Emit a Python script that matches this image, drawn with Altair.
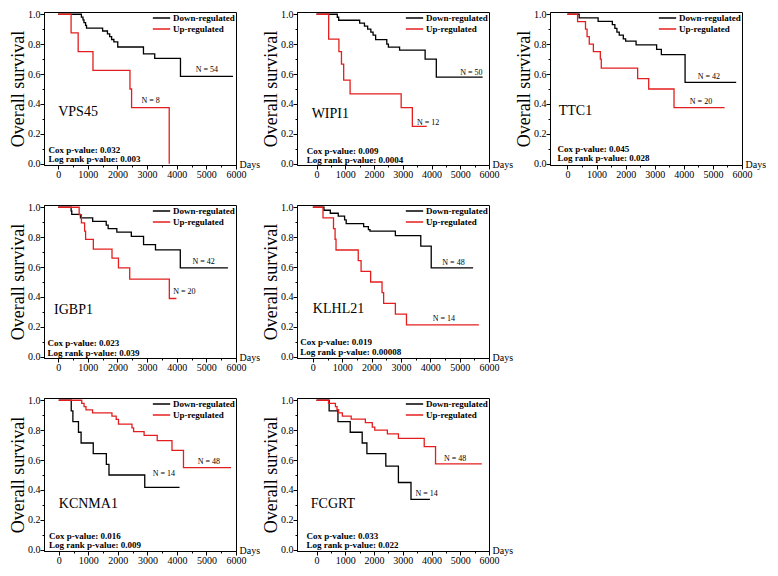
import altair as alt
import pandas as pd

FONT = "Liberation Serif"
W, H = 192, 153

GROUPS = ["Down-regulated", "Up-regulated"]
COLORS = ["#000000", "#e41e1e"]

genes = ["VPS45", "WIPI1", "TTC1", "IGBP1", "KLHL21", "KCNMA1", "FCGRT"]
cox_p = ["0.032", "0.009", "0.045", "0.023", "0.019", "0.016", "0.033"]
logrank_p = ["0.003", "0.0004", "0.028", "0.039", "0.00008", "0.009", "0.022"]
n_down = [54, 50, 42, 42, 48, 14, 14]
n_up = [8, 12, 20, 20, 14, 48, 48]
x_min = [-480, -680, -600, -480, -540, -500, -680]

# ---- VPS45 ----
vps45_down_t = [0, 782, 836, 869, 923, 955, 1498, 1661, 1737, 1802, 1878, 2009, 2877, 3257, 4126, 5900]
vps45_down_s = [1.0, 0.981, 0.963, 0.944, 0.926, 0.907, 0.888, 0.869, 0.850, 0.831, 0.815, 0.781, 0.735, 0.705, 0.585, 0.585]
vps45_up_t = [0, 434, 673, 1173, 2421, 2476, 3746]
vps45_up_s = [1.0, 0.875, 0.75, 0.625, 0.5, 0.375, 0.0]
# ---- WIPI1 ----
wipi1_down_t = [0, 722, 770, 1500, 1667, 1778, 1889, 1967, 2056, 2444, 2500, 2889, 3778, 4167, 5778]
wipi1_down_s = [1.0, 0.98, 0.96, 0.94, 0.92, 0.90, 0.88, 0.86, 0.83, 0.80, 0.78, 0.76, 0.70, 0.58, 0.58]
wipi1_up_t = [0, 422, 778, 867, 944, 1167, 2944, 3333, 3833]
wipi1_up_s = [1.0, 0.833, 0.75, 0.667, 0.56, 0.467, 0.375, 0.25, 0.25]
# ---- TTC1 ----
ttc1_down_t = [0, 402, 1054, 1543, 1630, 1700, 1780, 1920, 2000, 2359, 3065, 3228, 4043, 5800]
ttc1_down_s = [1.0, 0.976, 0.952, 0.93, 0.905, 0.88, 0.86, 0.835, 0.82, 0.795, 0.765, 0.73, 0.545, 0.545]
ttc1_up_t = [0, 348, 620, 674, 750, 891, 1130, 1163, 2413, 2793, 3663, 5402]
ttc1_up_s = [1.0, 0.95, 0.90, 0.85, 0.80, 0.75, 0.70, 0.64, 0.57, 0.50, 0.375, 0.375]
# ---- IGBP1 ----
igbp1_down_t = [0, 435, 457, 750, 1163, 1620, 1685, 1978, 2467, 2880, 3283, 4120, 5728]
igbp1_down_s = [1.0, 0.976, 0.952, 0.929, 0.905, 0.881, 0.857, 0.833, 0.805, 0.75, 0.715, 0.595, 0.595]
igbp1_up_t = [0, 707, 783, 891, 924, 1185, 1815, 2033, 2413, 3750, 3990]
igbp1_up_s = [1.0, 0.95, 0.895, 0.84, 0.785, 0.72, 0.66, 0.595, 0.52, 0.39, 0.39]
# ---- KLHL21 ----
klhl21_down_t = [0, 378, 595, 865, 1081, 1135, 1730, 1892, 1946, 2811, 3676, 4032, 5460]
klhl21_down_s = [1.0, 0.98, 0.96, 0.94, 0.915, 0.89, 0.87, 0.85, 0.84, 0.81, 0.74, 0.595, 0.595]
klhl21_up_t = [0, 346, 703, 757, 789, 1546, 1643, 1968, 2357, 2411, 2811, 3189, 5654]
klhl21_up_s = [1.0, 0.929, 0.857, 0.786, 0.714, 0.643, 0.571, 0.50, 0.429, 0.357, 0.286, 0.214, 0.214]
# ---- KCNMA1 ----
kcnma1_down_t = [0, 422, 478, 667, 756, 1167, 1611, 1700, 2911, 4089]
kcnma1_down_s = [1.0, 0.929, 0.857, 0.786, 0.714, 0.643, 0.571, 0.50, 0.417, 0.417]
kcnma1_up_t = [0, 778, 856, 922, 1144, 1800, 1944, 2022, 2478, 2533, 2889, 3333, 3833, 4222, 5833]
kcnma1_up_s = [1.0, 0.979, 0.958, 0.936, 0.915, 0.894, 0.872, 0.84, 0.815, 0.79, 0.765, 0.73, 0.665, 0.55, 0.55]
# ---- FCGRT ----
fcgrt_down_t = [0, 438, 745, 1172, 1588, 1752, 2410, 2848, 3286, 3943]
fcgrt_down_s = [1.0, 0.929, 0.857, 0.786, 0.714, 0.643, 0.56, 0.45, 0.337, 0.337]
fcgrt_up_t = [0, 416, 657, 712, 767, 898, 1205, 1698, 1939, 2026, 2464, 2848, 3746, 4140, 5750]
fcgrt_up_s = [1.0, 0.979, 0.958, 0.937, 0.915, 0.894, 0.874, 0.85, 0.82, 0.80, 0.775, 0.745, 0.69, 0.575, 0.575]

down_t = [vps45_down_t, wipi1_down_t, ttc1_down_t, igbp1_down_t, klhl21_down_t, kcnma1_down_t, fcgrt_down_t]
down_s = [vps45_down_s, wipi1_down_s, ttc1_down_s, igbp1_down_s, klhl21_down_s, kcnma1_down_s, fcgrt_down_s]
up_t = [vps45_up_t, wipi1_up_t, ttc1_up_t, igbp1_up_t, klhl21_up_t, kcnma1_up_t, fcgrt_up_t]
up_s = [vps45_up_s, wipi1_up_s, ttc1_up_s, igbp1_up_s, klhl21_up_s, kcnma1_up_s, fcgrt_up_s]

# annotation anchors (data units: days, survival)
n_down_xy = [(5016, 0.625), (5390, 0.61), (4860, 0.583), (4910, 0.632), (4790, 0.63), (3560, 0.51), (3830, 0.375)]
n_up_xy = [(3120, 0.42), (3880, 0.276), (4590, 0.41), (4260, 0.433), (4460, 0.256), (5080, 0.59), (4820, 0.61)]
gene_xy = [(0, 0.344), (-170, 0.33), (-300, 0.35), (-140, 0.315), (0, 0.32), (0, 0.304), (-200, 0.304)]
p_x = [-330, -340, -340, -360, -430, -333, -350]
cox_y = [0.094, 0.087, 0.098, 0.09, 0.096, 0.09, 0.09]
log_y = [0.034, 0.025, 0.038, 0.026, 0.032, 0.03, 0.03]

X_VALUES = list(range(0, 6001, 500))
Y_VALUES = [round(i * 0.1, 1) for i in range(11)]


def panel(i):
    rows = []
    for g, ts, ss in [(GROUPS[0], down_t[i], down_s[i]), (GROUPS[1], up_t[i], up_s[i])]:
        for t, s in zip(ts, ss):
            rows.append({"group": g, "days": t, "surv": s})
    df = pd.DataFrame(rows)

    xs = alt.Scale(domain=[x_min[i], 6000], nice=False, zero=False)
    ys = alt.Scale(domain=[-0.008, 1.015], nice=False, zero=False)
    x_axis = alt.Axis(
        values=X_VALUES, format="d",
        labelExpr="datum.value % 1000 === 0 ? datum.label : ''",
        tickSize={"condition": {"test": "datum.value % 1000 === 0", "value": 4}, "value": 2},
        labelFont=FONT, labelFontSize=10, labelPadding=0, labelOverlap=False, labelFlush=False,
        title="Days", titleFont=FONT, titleFontSize=10, titleFontWeight="normal",
        titleX=W + 3, titleY=-1, titleAlign="left", titleBaseline="middle", titleAngle=0,
    )
    y_axis = alt.Axis(
        values=Y_VALUES, format=".1f",
        labelExpr="round(datum.value * 10) % 2 === 0 ? datum.label : ''",
        tickSize={"condition": {"test": "round(datum.value * 10) % 2 === 0", "value": 4}, "value": 2},
        labelFont=FONT, labelFontSize=10, labelPadding=0, labelOverlap=False, labelFlush=False,
        title="Overall survival", titleFont=FONT, titleFontSize=18, titleFontWeight="normal",
        titlePadding=0,
    )

    lines = alt.Chart(df).mark_line(interpolate="step-after", strokeWidth=1.3).encode(
        x=alt.X("days:Q", scale=xs, axis=x_axis),
        y=alt.Y("surv:Q", scale=ys, axis=y_axis),
        color=alt.Color(
            "group:N",
            scale=alt.Scale(domain=GROUPS, range=COLORS),
            legend=alt.Legend(
                title=None, orient="top-right", offset=1, padding=0,
                symbolType="stroke", symbolSize=300, symbolStrokeWidth=1.5,
                labelFont=FONT, labelFontSize=9, labelFontWeight="bold",
                labelOffset=2, rowPadding=1, clipHeight=10, labelColor="black",
            ),
        ),
    )

    ndf = pd.DataFrame({
        "x": [n_down_xy[i][0], n_up_xy[i][0]],
        "y": [n_down_xy[i][1], n_up_xy[i][1]],
        "t": [f"N = {n_down[i]}", f"N = {n_up[i]}"],
    })
    nlab = alt.Chart(ndf).mark_text(font=FONT, fontSize=8, align="center", baseline="middle").encode(
        x=alt.X("x:Q", scale=xs, axis=x_axis), y=alt.Y("y:Q", scale=ys, axis=y_axis), text="t:N"
    )

    gdf = pd.DataFrame({"x": [gene_xy[i][0]], "y": [gene_xy[i][1]], "t": [genes[i]]})
    glab = alt.Chart(gdf).mark_text(font=FONT, fontSize=14, align="left", baseline="middle").encode(
        x=alt.X("x:Q", scale=xs, axis=x_axis), y=alt.Y("y:Q", scale=ys, axis=y_axis), text="t:N"
    )

    pdf = pd.DataFrame({
        "x": [p_x[i], p_x[i]],
        "y": [cox_y[i], log_y[i]],
        "t": [f"Cox p-value: {cox_p[i]}", f"Log rank p-value: {logrank_p[i]}"],
    })
    plab = alt.Chart(pdf).mark_text(font=FONT, fontSize=9, fontWeight="bold", align="left", baseline="middle").encode(
        x=alt.X("x:Q", scale=xs, axis=x_axis), y=alt.Y("y:Q", scale=ys, axis=y_axis), text="t:N"
    )

    return alt.layer(lines, nlab, glab, plab).properties(width=W, height=H)


def row(idx):
    return alt.hconcat(*[panel(i) for i in idx], spacing=0).resolve_scale(
        color="independent", x="independent", y="independent"
    ).resolve_legend(color="independent")


chart = alt.vconcat(row([0, 1, 2]), row([3, 4]), row([5, 6]), spacing=21).resolve_scale(
    color="independent", x="independent", y="independent"
).resolve_legend(color="independent").properties(
    padding=0, background="white"
).configure_view(
    stroke="black", strokeWidth=1
).configure_axis(
    domainColor="black", tickColor="black", labelColor="black", titleColor="black",
    labelFont=FONT, titleFont=FONT, grid=False, domainWidth=1, tickWidth=1,
)

chart.save("out.html", embed_options={"renderer": "svg", "actions": False})
